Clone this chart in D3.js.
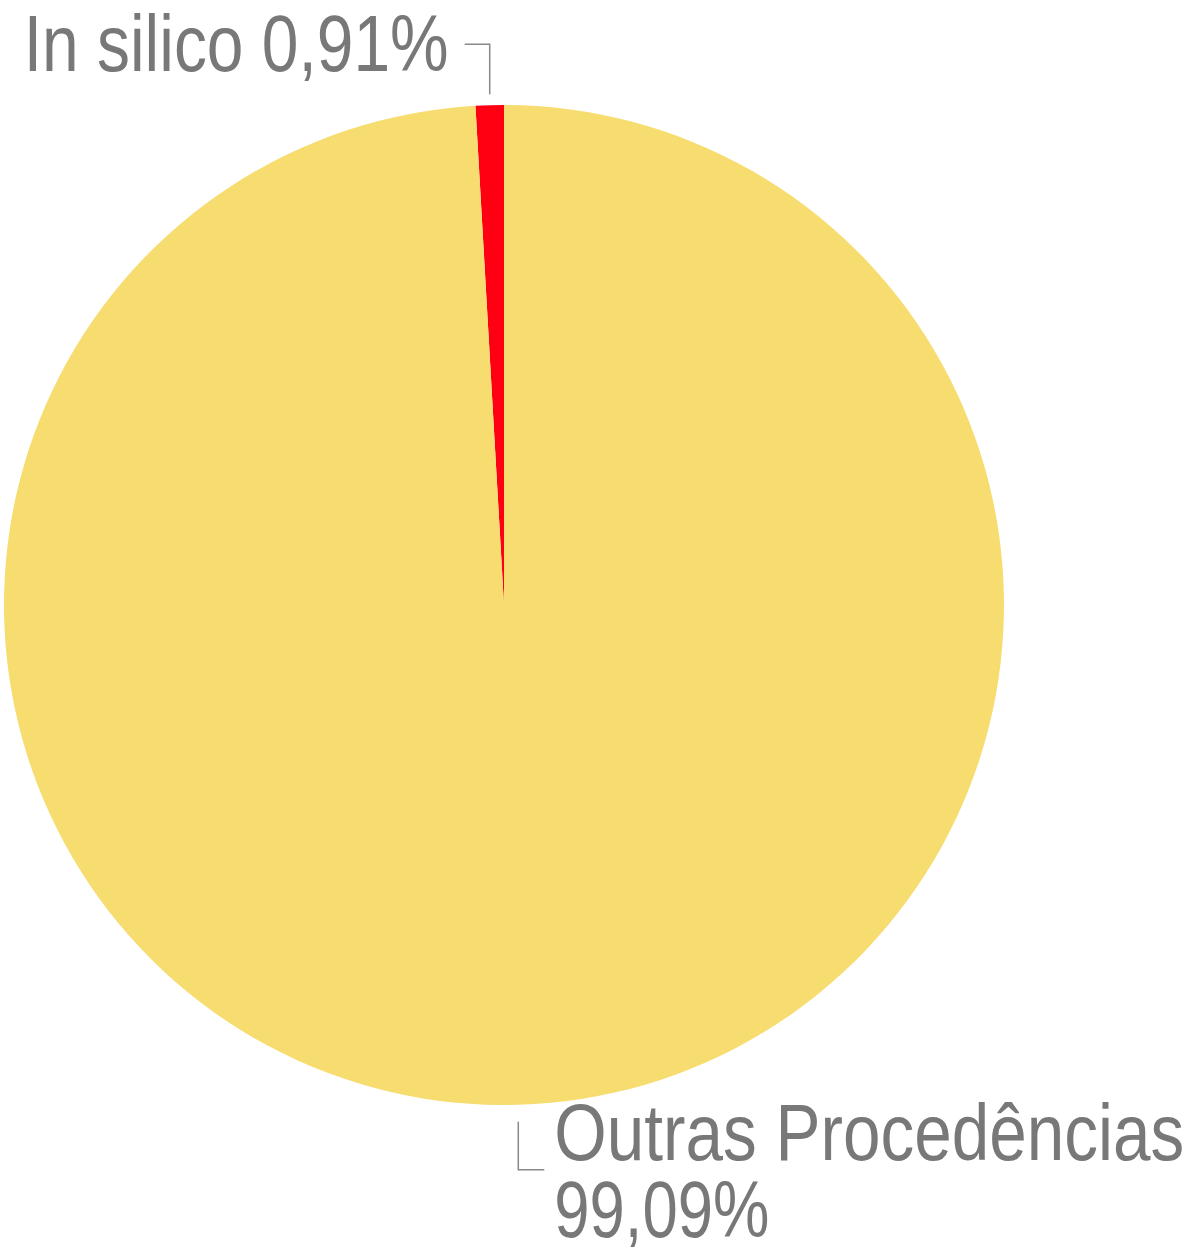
<!DOCTYPE html>
<html><head><meta charset="utf-8">
<script src="https://cdn.jsdelivr.net/npm/d3@7"></script>
<style>body{margin:0;background:#fff}svg{display:block}</style>
</head><body>
<script>
const categories = ["In silico", "Outras Procedências"];
const values = [0.91, 99.09];
const valueLabels = ["0,91%", "99,09%"];
const colors = ["#FF0012", "#F7DC6F"];

const W = 1191, H = 1247;
const cx = 504, cy = 605, R = 500;
const svg = d3.select("body").append("svg").attr("width", W).attr("height", H);
const g = svg.append("g").attr("transform", `translate(${cx},${cy})`);

const total = d3.sum(values);
const start = -2 * Math.PI * values[0] / total;
const pie = d3.pie().sort(null).value(d => d).startAngle(start).endAngle(start + 2 * Math.PI);
const arcs = pie(values);
const arc = d3.arc().innerRadius(0).outerRadius(R);

g.selectAll("path.slice").data(arcs).join("path")
  .attr("class", "slice")
  .attr("d", arc)
  .attr("fill", (d, i) => colors[i]);

const font = "'Liberation Sans', Arial, sans-serif";
const textColor = "#787878";
const fs = 79;

// In silico label
{
  const a = (arcs[0].startAngle + arcs[0].endAngle) / 2;
  const x = R * Math.sin(a), y = -R * Math.cos(a);
  const p0 = [x, y - 11], p1 = [x, y - 61], p2 = [x - 25, y - 61];
  g.append("polyline").attr("points", [p0, p1, p2].map(p => p.join(",")).join(" "))
    .attr("fill", "none").attr("stroke", "#888").attr("stroke-width", 1.5);
  g.append("text").attr("x", p2[0] - 441).attr("y", p2[1] + 27)
    .attr("font-family", font).attr("font-size", fs)
    .attr("textLength", 425).attr("lengthAdjust", "spacingAndGlyphs")
    .attr("fill", textColor).text(categories[0] + " " + valueLabels[0]);
}
// Outras label
{
  const a = (arcs[1].startAngle + arcs[1].endAngle) / 2;
  const x = R * Math.sin(a), y = -R * Math.cos(a);
  const p0 = [x, y + 17], p1 = [x, y + 65], p2 = [x + 26, y + 65];
  g.append("polyline").attr("points", [p0, p1, p2].map(p => p.join(",")).join(" "))
    .attr("fill", "none").attr("stroke", "#888").attr("stroke-width", 1.5);
  g.append("text").attr("x", p2[0] + 10).attr("y", p1[1] - 10)
    .attr("font-family", font).attr("font-size", fs).attr("fill", textColor)
    .attr("textLength", 630).attr("lengthAdjust", "spacingAndGlyphs")
    .text(categories[1]);
  g.append("text").attr("x", p2[0] + 10).attr("y", p1[1] + 67)
    .attr("font-family", font).attr("font-size", fs).attr("fill", textColor)
    .attr("textLength", 215).attr("lengthAdjust", "spacingAndGlyphs")
    .text(valueLabels[1]);
}
</script>
</body></html>
